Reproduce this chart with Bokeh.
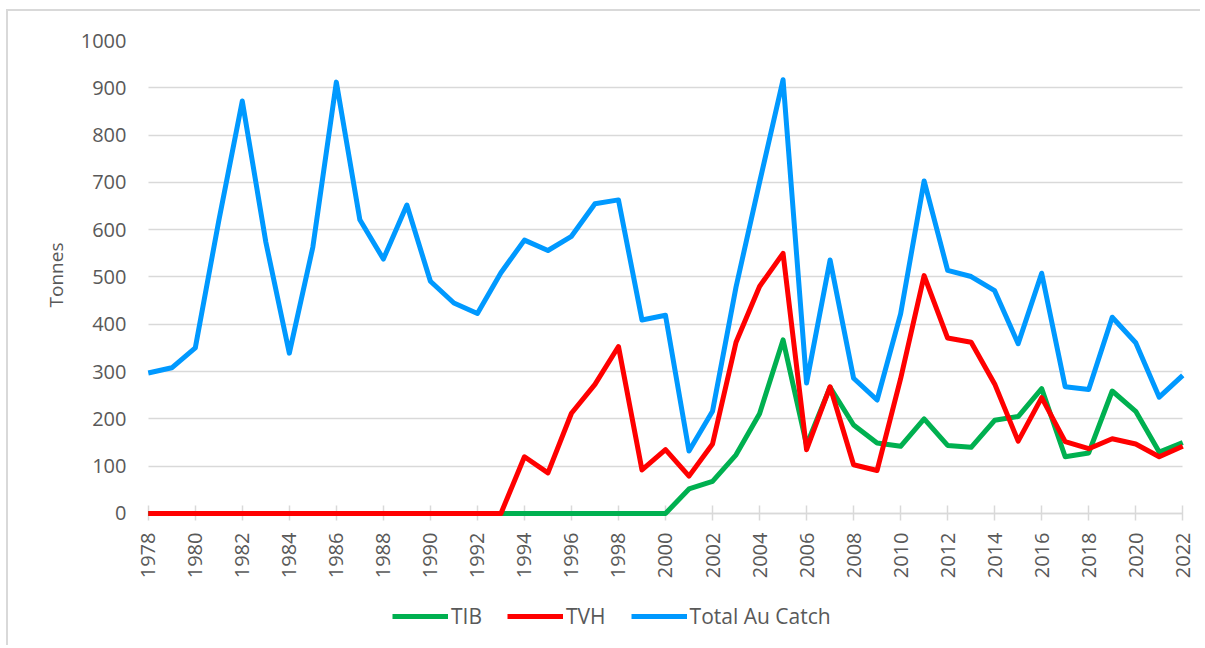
import math
from bokeh.plotting import figure
from bokeh.models import Range1d, Legend, LegendItem, FixedTicker, Title, Grid
from bokeh.embed import file_html
from bokeh.resources import INLINE

years = list(range(1978, 2023))
tib = [0] * 23 + [52, 68, 124, 211, 367, 145, 267, 187, 149, 142, 200, 144, 140, 197, 205,
                  264, 120, 128, 259, 216, 130, 150]
tvh = [0] * 16 + [120, 86, 212, 273, 353, 92, 135, 79, 147, 362, 480, 550, 135, 268, 103,
                  91, 285, 503, 371, 362, 274, 153, 245, 152, 137, 158, 147, 120, 142]
total = [297, 308, 350, 619, 872, 574, 339, 563, 912, 621,
         538, 652, 491, 445, 423, 509, 578, 556, 586, 655,
         663, 409, 419, 132, 216, 479, 700, 917, 276, 536,
         286, 240, 422, 703, 514, 501, 471, 359, 508, 268,
         262, 415, 361, 246, 292]
series_names = ["TIB", "TVH", "Total Au Catch"]
series_colors = ["#00b050", "#ff0000", "#0099ff"]
x_ticks = list(range(1978, 2023, 2))
y_ticks = list(range(0, 1001, 100))

FONT = "Open Sans"
TXT = "#595959"
GRID = "#d9d9d9"

# frame spans 40..640 px vertically (0 t at 513 px, 1000 t at 40 px)
p = figure(width=1194, height=636, output_backend="svg", toolbar_location=None,
           x_range=Range1d(1977.5, 2022.5), y_range=Range1d(-268.5, 1000),
           min_border_left=128, min_border_right=8, min_border_top=29, min_border_bottom=7)
p.styles = {"border-left": "2px solid #d9d9d9", "border-top": "2px solid #d9d9d9",
            "margin-left": "6px", "margin-top": "9px"}
p.outline_line_color = None
p.background_fill_color = "white"
p.border_fill_color = "white"

# x axis, drawn at y = 0
p.xaxis.fixed_location = 0
p.xaxis.bounds = (1978, 2022)
p.xaxis.level = "underlay"
p.xaxis.ticker = FixedTicker(ticks=x_ticks)
p.xaxis.major_label_orientation = math.pi / 2
p.xaxis.axis_line_color = GRID
p.xaxis.axis_line_width = 1.5
p.xaxis.major_tick_line_color = GRID
p.xaxis.major_tick_line_width = 1.5
p.xaxis.major_tick_in = 8
p.xaxis.major_tick_out = 7
p.xaxis.minor_tick_line_color = None
p.xaxis.major_label_standoff = 12
p.xaxis.major_label_text_font = FONT
p.xaxis.major_label_text_font_size = "20px"
p.xaxis.major_label_text_color = TXT

# y axis
p.yaxis.ticker = FixedTicker(ticks=y_ticks)
p.yaxis.axis_line_color = None
p.yaxis.major_tick_line_color = None
p.yaxis.minor_tick_line_color = None
p.yaxis.major_label_standoff = 4
p.yaxis.major_label_text_font = FONT
p.yaxis.major_label_text_font_size = "20px"
p.yaxis.major_label_text_color = TXT

p.add_layout(Title(text="Tonnes", align="right", offset=202, standoff=18,
                   text_font=FONT, text_font_size="19px", text_font_style="normal",
                   text_color=TXT), "left")

p.xgrid.grid_line_color = None
p.ygrid.grid_line_color = GRID
p.ygrid.grid_line_width = 1.5
if "cross_bounds" in Grid.properties():
    p.ygrid.cross_bounds = (1978, 2022)

items = []
for name, col, vals in zip(series_names, series_colors, [tib, tvh, total]):
    r = p.line(years, vals, line_color=col, line_width=5, line_join="round", line_cap="butt")
    items.append(LegendItem(label=name, renderers=[r]))

legend = Legend(items=items, orientation="horizontal", location=(256, 10),
                glyph_width=56, glyph_height=20, label_height=20, label_standoff=3,
                spacing=25, padding=0, margin=0, border_line_color=None,
                background_fill_alpha=0,
                label_text_font=FONT, label_text_font_size="21px", label_text_color=TXT)
p.add_layout(legend, "center")

open("out.html", "w").write(file_html(p, INLINE))
